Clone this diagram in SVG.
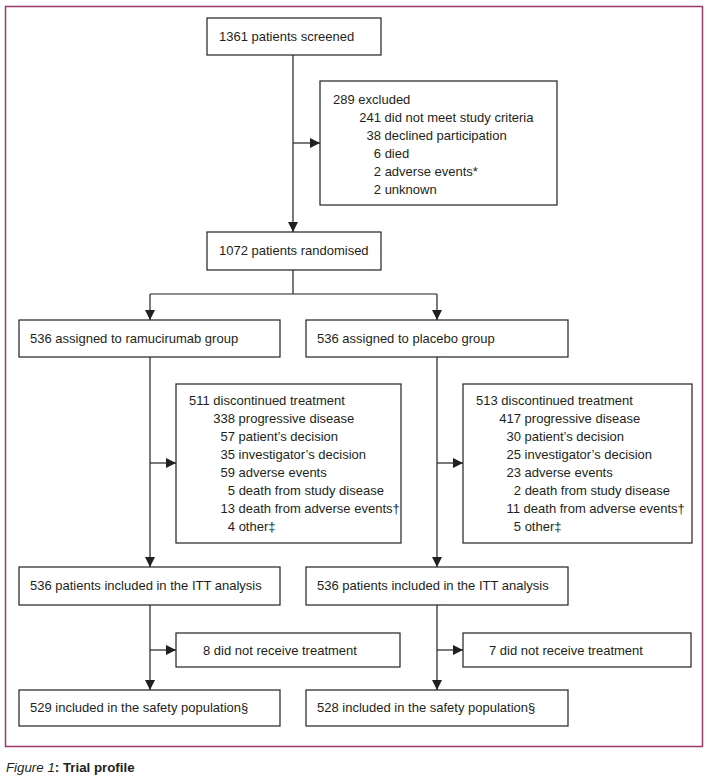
<svg xmlns="http://www.w3.org/2000/svg" width="708" height="777" viewBox="0 0 708 777">
<style>
.box{fill:#fff;stroke:#231f20;stroke-width:1.2}
.t{font-family:"Liberation Sans",Arial,sans-serif;font-size:13px;fill:#231f20}
.c{fill:none;stroke:#231f20;stroke-width:1.2}
.cap{font-family:"Liberation Sans",Arial,sans-serif;font-size:13.3px;fill:#231f20}
</style>
<defs>
<marker id="ah" viewBox="0 0 10 10" refX="10" refY="5" markerWidth="10" markerHeight="10" markerUnits="userSpaceOnUse" orient="auto">
<path d="M0,0 L10,5 L0,10 z" fill="#231f20"/>
</marker>
</defs>
<rect width="708" height="777" fill="#fff"/>
<rect x="5.5" y="6.5" width="697" height="740" fill="none" stroke="#9b3b6b" stroke-width="1.5"/>

<g id="connectors">
<path class="c" d="M293,55 V232" marker-end="url(#ah)"/>
<path class="c" d="M293,143 H320" marker-end="url(#ah)"/>
<path class="c" d="M293,270 V294 M150,294 H437"/>
<path class="c" d="M150,294 V320" marker-end="url(#ah)"/>
<path class="c" d="M437,294 V320" marker-end="url(#ah)"/>
<path class="c" d="M150,357 V567" marker-end="url(#ah)"/>
<path class="c" d="M150,463 H176" marker-end="url(#ah)"/>
<path class="c" d="M437,357 V567" marker-end="url(#ah)"/>
<path class="c" d="M437,463 H463" marker-end="url(#ah)"/>
<path class="c" d="M150,605 V690" marker-end="url(#ah)"/>
<path class="c" d="M150,650 H176" marker-end="url(#ah)"/>
<path class="c" d="M437,605 V690" marker-end="url(#ah)"/>
<path class="c" d="M437,650 H463" marker-end="url(#ah)"/>
</g>

<g id="screened">
<rect class="box" x="207" y="18" width="174" height="37"/>
<text class="t" x="219" y="41">1361 patients screened</text>
</g>

<g id="excluded">
<rect class="box" x="320" y="81" width="237" height="124"/>
<text class="t" x="333" y="104">289 excluded</text>
<text class="t" x="359.3" y="122">241 did not meet study criteria</text>
<text class="t" x="366.5" y="140">38 declined participation</text>
<text class="t" x="373.8" y="158">6 died</text>
<text class="t" x="373.8" y="176">2 adverse events*</text>
<text class="t" x="373.8" y="194">2 unknown</text>
</g>

<g id="randomised">
<rect class="box" x="207" y="232" width="174" height="38"/>
<text class="t" x="219" y="255">1072 patients randomised</text>
</g>

<g id="ram-assigned">
<rect class="box" x="19" y="320" width="261" height="37"/>
<text class="t" x="30" y="343">536 assigned to ramucirumab group</text>
</g>

<g id="pla-assigned">
<rect class="box" x="306" y="320" width="262" height="37"/>
<text class="t" x="317" y="343">536 assigned to placebo group</text>
</g>

<g id="ram-discontinued">
<rect class="box" x="176" y="384" width="225" height="159"/>
<text class="t" x="189" y="405">511 discontinued treatment</text>
<text class="t" x="213.3" y="423">338 progressive disease</text>
<text class="t" x="220.5" y="441">57 patient’s decision</text>
<text class="t" x="220.5" y="459">35 investigator’s decision</text>
<text class="t" x="220.5" y="477">59 adverse events</text>
<text class="t" x="227.8" y="495">5 death from study disease</text>
<text class="t" x="220.5" y="513">13 death from adverse events†</text>
<text class="t" x="227.8" y="531">4 other‡</text>
</g>

<g id="pla-discontinued">
<rect class="box" x="463" y="384" width="229" height="159"/>
<text class="t" x="476" y="405">513 discontinued treatment</text>
<text class="t" x="499.3" y="423">417 progressive disease</text>
<text class="t" x="506.5" y="441">30 patient’s decision</text>
<text class="t" x="506.5" y="459">25 investigator’s decision</text>
<text class="t" x="506.5" y="477">23 adverse events</text>
<text class="t" x="513.8" y="495">2 death from study disease</text>
<text class="t" x="506.5" y="513">11 death from adverse events†</text>
<text class="t" x="513.8" y="531">5 other‡</text>
</g>

<g id="ram-itt">
<rect class="box" x="19" y="567" width="261" height="38"/>
<text class="t" x="30" y="590">536 patients included in the ITT analysis</text>
</g>

<g id="pla-itt">
<rect class="box" x="306" y="567" width="262" height="38"/>
<text class="t" x="317" y="590">536 patients included in the ITT analysis</text>
</g>

<g id="ram-notreated">
<rect class="box" x="176" y="633" width="224" height="34"/>
<text class="t" x="203" y="655">8 did not receive treatment</text>
</g>

<g id="pla-notreated">
<rect class="box" x="463" y="633" width="228" height="34"/>
<text class="t" x="489" y="655">7 did not receive treatment</text>
</g>

<g id="ram-safety">
<rect class="box" x="19" y="690" width="261" height="36"/>
<text class="t" x="30" y="712">529 included in the safety population§</text>
</g>

<g id="pla-safety">
<rect class="box" x="306" y="690" width="262" height="36"/>
<text class="t" x="317" y="712">528 included in the safety population§</text>
</g>

<text class="cap" x="6" y="772"><tspan font-style="italic">Figure 1</tspan><tspan font-weight="bold">: Trial profile</tspan></text>
</svg>
